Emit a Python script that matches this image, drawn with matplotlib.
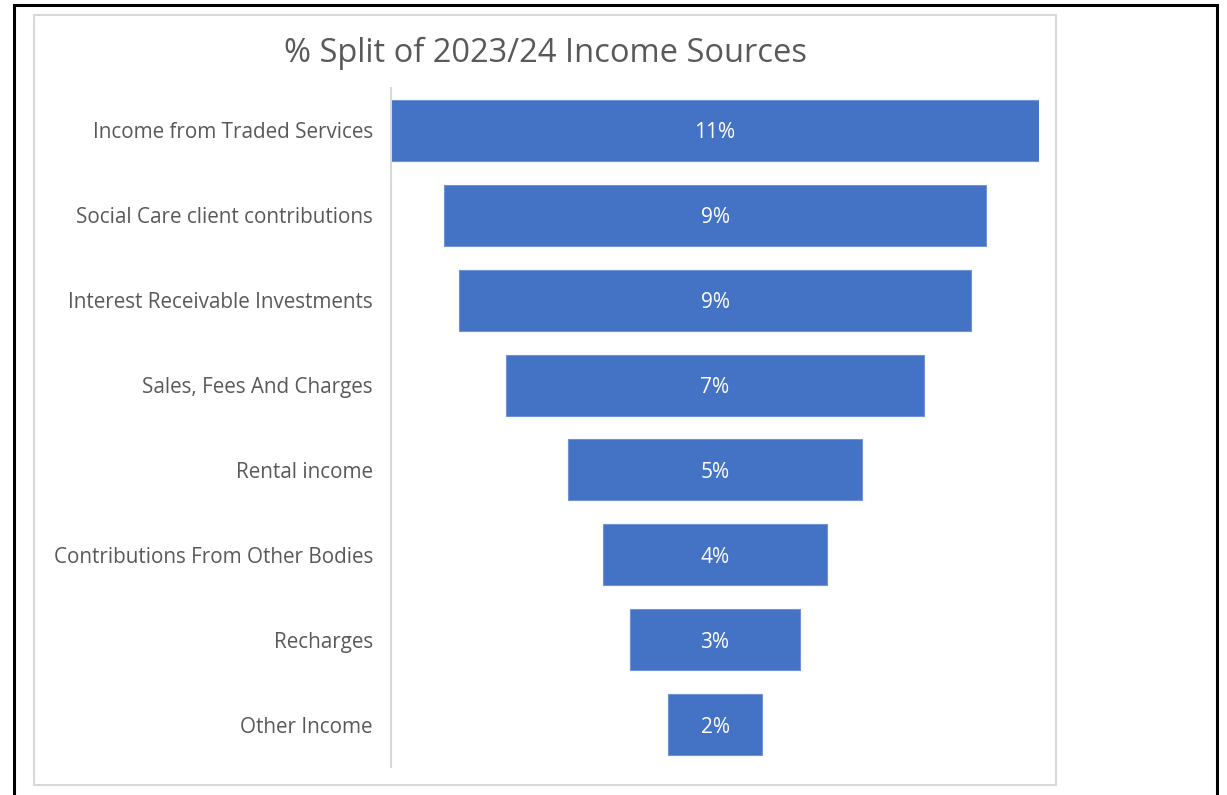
import matplotlib.pyplot as plt
import matplotlib.patches as patches
import numpy as np

# ================ DATA ===================
categories = ['Income from Traded Services', 'Social Care client contributions',
              'Interest Receivable Investments', 'Sales, Fees And Charges',
              'Rental income', 'Contributions From Other Bodies', 'Recharges',
              'Other Income']
shares = [11.0, 9.2, 8.7, 7.1, 5.0, 3.8, 2.9, 1.6]   # % of income
labels = ['11%', '9%', '9%', '7%', '5%', '4%', '3%', '2%']

BLUE = '#4472C4'
GREY = '#595959'
plt.rcParams['font.family'] = ['Open Sans', 'DejaVu Sans']

W, H = 1227, 795
fig = plt.figure(figsize=(W/100, H/100), dpi=100)

# outer black frame and the chart's own light border
fig.add_artist(patches.Rectangle((14/W, -0.01), (1217-14)/W, 1 - 5/H + 0.01,
                                 transform=fig.transFigure, fill=False,
                                 edgecolor='black', linewidth=2.2))
fig.add_artist(patches.Rectangle((34/W, 1 - 785/H), (1056-34)/W, (785-15)/H,
                                 transform=fig.transFigure, fill=False,
                                 edgecolor='#d9d9d9', linewidth=1.5))

ax = fig.add_axes([391/W, 1 - 767/H, (1039-391)/W, (767-88)/H])
y = np.arange(len(categories))
vals = np.array(shares)
bars = ax.barh(y, vals, left=-vals/2, height=0.72, color=BLUE,
               edgecolor='#6f93d6', linewidth=0.8)
for b, lab in zip(bars, labels):
    ax.text(0, b.get_y() + b.get_height()/2, lab, ha='center', va='center_baseline',
            color='white', fontsize=15)

ax.set_xlim(-max(vals)/2, max(vals)/2)
ax.set_ylim(len(categories) - 0.5, -0.5)
ax.set_yticks(y)
ax.set_yticklabels(categories, fontsize=14.9, color=GREY)
ax.tick_params(axis='y', length=0, pad=13)
ax.set_xticks([])
for s in ['top', 'right', 'bottom']:
    ax.spines[s].set_visible(False)
ax.spines['left'].set_color('#d9d9d9')
ax.spines['left'].set_linewidth(1.5)
ax.set_zorder(1)

fig.text(545/W, 1 - 53/H, '% Split of 2023/24 Income Sources', ha='center',
         va='center', fontsize=23.5, color=GREY)

fig.savefig('out.png', dpi=100)
